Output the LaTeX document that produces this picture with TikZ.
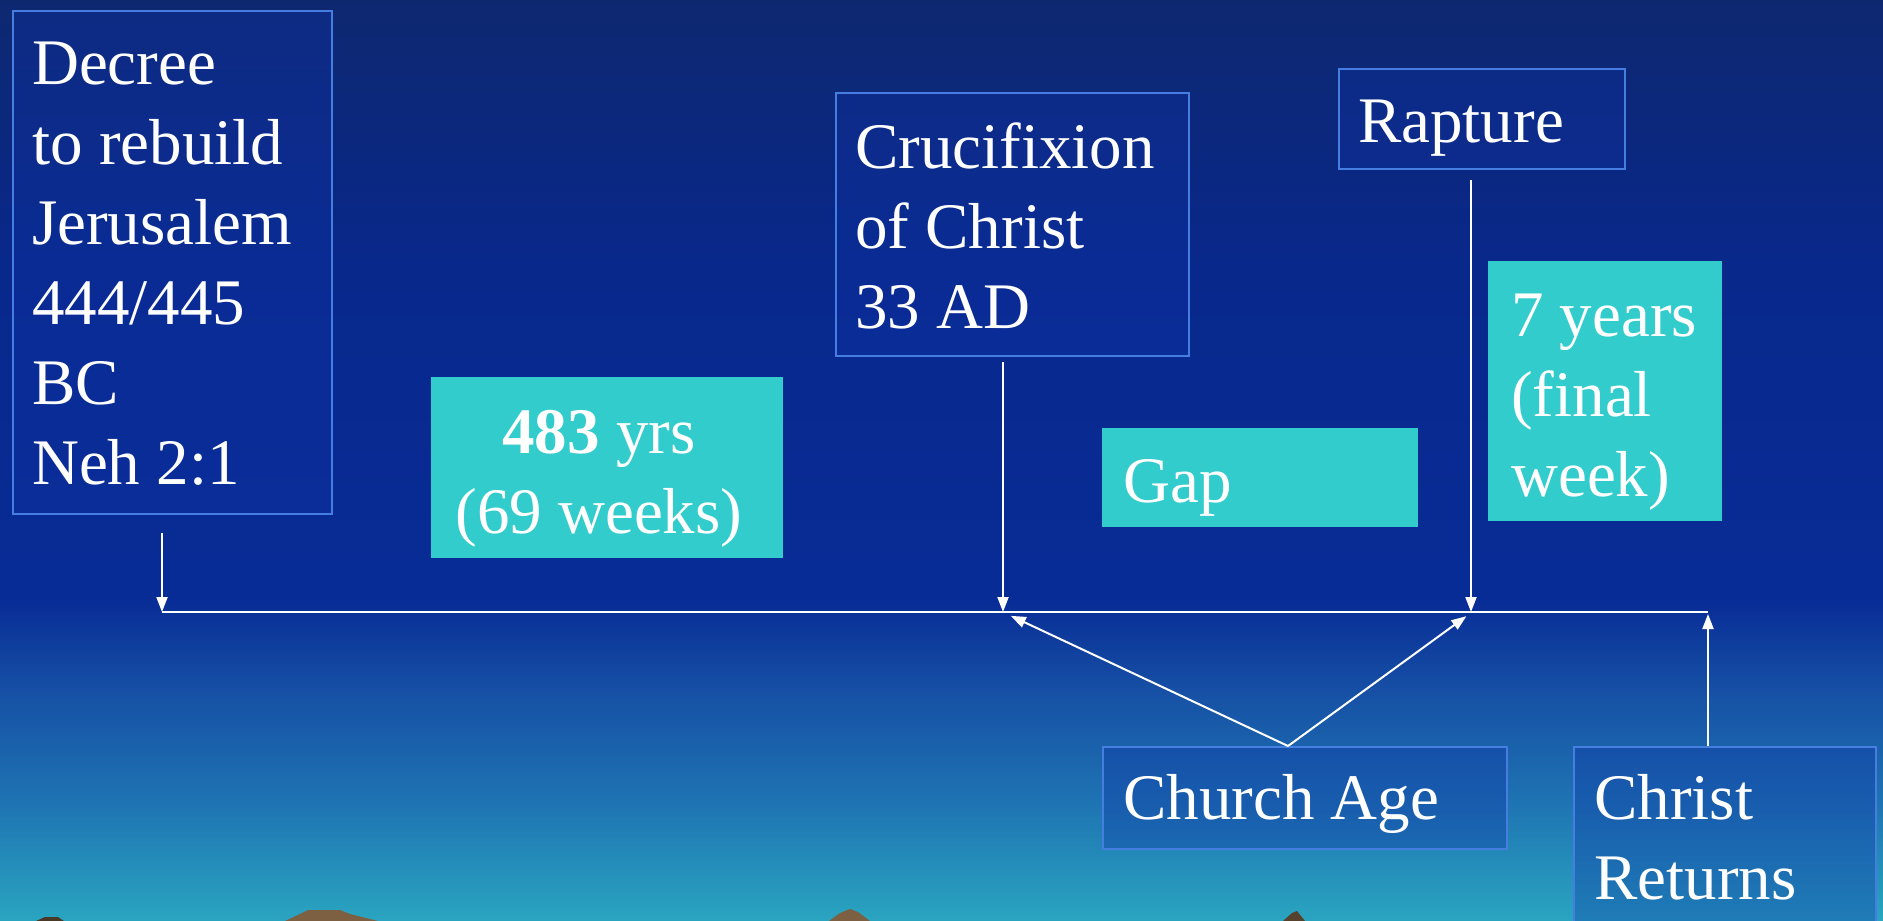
\documentclass[tikz,border=0pt]{standalone}
\usepackage{fontspec}
\setmainfont{Liberation Serif}
\usetikzlibrary{arrows.meta,calc}
\definecolor{bgtop}{RGB}{14,40,112}
\definecolor{bgA}{RGB}{8,40,140}
\definecolor{bgB}{RGB}{8,44,150}
\definecolor{bgC}{RGB}{22,80,165}
\definecolor{bgD}{RGB}{30,115,178}
\definecolor{bgbot}{RGB}{42,165,192}
\definecolor{boxline}{RGB}{70,125,225}
\definecolor{boxfill}{RGB}{14,50,165}
\definecolor{cyanbox}{RGB}{51,204,204}
\definecolor{hillbrown}{RGB}{125,95,65}
\pgfdeclareverticalshading{slidebg}{100bp}{color(0bp)=(bgbot); color(25bp)=(bgbot); color(31.5bp)=(bgD); color(37.5bp)=(bgC); color(42.5bp)=(bgB); color(60bp)=(bgA); color(75bp)=(bgtop); color(100bp)=(bgtop)}
\tikzset{
  darkbox/.style={draw=boxline, line width=2pt, fill=boxfill, fill opacity=0.35, draw opacity=1, rectangle, inner sep=0pt, anchor=north west},
  cyanrect/.style={fill=cyanbox, rectangle, inner sep=0pt, anchor=north west},
  slidetext/.style={text=white, inner sep=0pt, align=left, anchor=north west, font=\fontsize{65}{80}\selectfont},
  wline/.style={draw=white, line width=2pt},
  warrow/.style={draw=white, line width=2pt, -{Triangle[length=15pt,width=11pt]}},
}
\begin{document}
\begin{tikzpicture}[x=1pt,y=-1pt]
\useasboundingbox (0,0) rectangle (1883,921);
\clip (0,0) rectangle (1883,921);
\shade[shading=slidebg] (0,0) rectangle (1883,921);
% hills at the bottom edge
\fill[hillbrown!60!black] (36,921) -- (45,917) -- (58,917) -- (64,921) -- cycle;
\fill[hillbrown] (285,921) -- (300,914) -- (308,910) -- (340,910) -- (350,914) -- (378,921) -- cycle;
\fill[hillbrown] (829,921) -- (840,913) -- (850,909) -- (858,912) -- (870,921) -- cycle;
\fill[hillbrown!70!black] (1283,921) -- (1292,913) -- (1297,911) -- (1305,921) -- cycle;
% boxes
\node[darkbox, minimum width=319pt, minimum height=503pt] (decree) at (12,10) {};
\node[darkbox, minimum width=353pt, minimum height=263pt] (cruc) at (835,92) {};
\node[darkbox, minimum width=286pt, minimum height=100pt] (rapture) at (1338,68) {};
\node[cyanrect, minimum width=352pt, minimum height=181pt] (yrs) at (431,377) {};
\node[cyanrect, minimum width=316pt, minimum height=99pt] (gap) at (1102,428) {};
\node[cyanrect, minimum width=234pt, minimum height=260pt] (seven) at (1488,261) {};
\node[darkbox, minimum width=404pt, minimum height=102pt] (church) at (1102,746) {};
\node[darkbox, minimum width=302pt, minimum height=250pt] (christ) at (1573,746) {};
% texts
\node[slidetext] (tdecree) at (32,28) {\strut Decree\\to rebuild\\Jerusalem\\444/445\\BC\\Neh 2:1};
\node[slidetext] (tcruc) at (855,112) {\strut Crucifixion\\of Christ\\33 AD};
\node[slidetext] (trapture) at (1358,86) {\strut Rapture};
\node[slidetext, align=center, anchor=north] (tyrs) at (599,397) {\strut\textbf{483} yrs\\(69 weeks)};
\node[slidetext] (tgap) at (1123,446) {\strut Gap};
\node[slidetext] (tseven) at (1511,280) {\strut 7 years\\(final\\week)};
\node[slidetext] (tchurch) at (1123,763) {\strut Church Age};
\node[slidetext] (tchrist) at (1594,763) {\strut Christ\\Returns};
% timeline
\coordinate (p0) at (162,612);
\coordinate (pc) at (1003,612);
\coordinate (pr) at (1471,612);
\coordinate (pe) at (1708,612);
\coordinate (ca) at ($(church.north)+(-17,0)$);
\draw[wline] (p0) -- (pe);
\draw[warrow, shorten <=18pt] (p0 |- decree.south) -- (p0);
\draw[warrow, shorten <=5pt] (pc |- cruc.south) -- (pc);
\draw[warrow, shorten <=10pt] (pr |- rapture.south) -- (pr);
\draw[warrow, shorten >=2pt] (ca) -- ($(pc)+(6,3)$);
\draw[warrow, shorten >=2pt] (ca) -- ($(pr)+(-3,3)$);
\draw[warrow] (pe |- christ.north) -- ($(pe)+(0,2)$);
\end{tikzpicture}
\end{document}
